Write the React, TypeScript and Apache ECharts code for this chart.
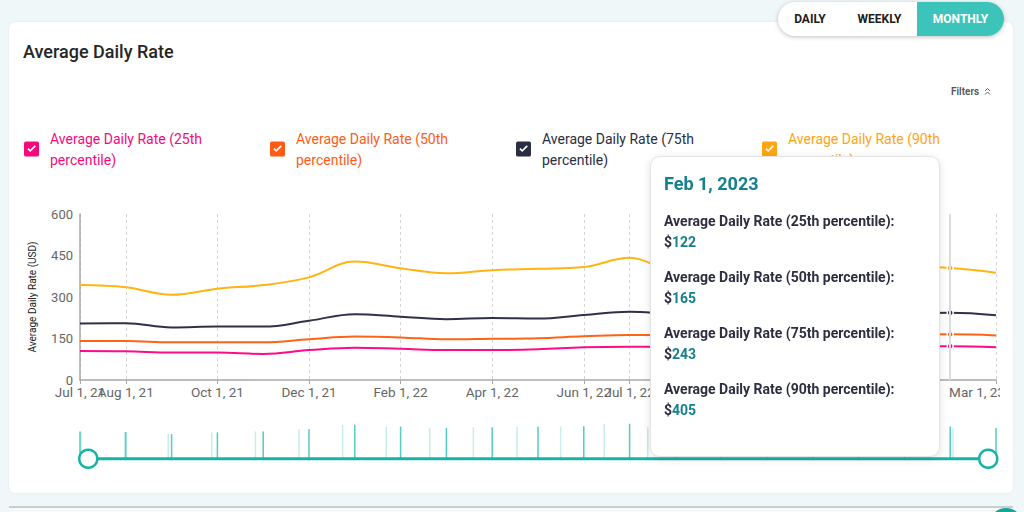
import React, { useEffect, useRef } from "react";
import * as echarts from "echarts";

// ---- data ----
const categories = [
  "2021-07-01", "2021-08-01", "2021-09-01", "2021-10-01", "2021-11-01", "2021-12-01",
  "2022-01-01", "2022-02-01", "2022-03-01", "2022-04-01", "2022-05-01", "2022-06-01",
  "2022-07-01", "2022-08-01", "2022-09-01", "2022-10-01", "2022-11-01", "2022-12-01",
  "2023-01-01", "2023-02-01", "2023-03-01",
];
const seriesNames = [
  "Average Daily Rate (25th percentile)",
  "Average Daily Rate (50th percentile)",
  "Average Daily Rate (75th percentile)",
  "Average Daily Rate (90th percentile)",
];
const p25 = [105, 104, 99, 99, 94, 108, 117, 113, 108, 108, 111, 118, 120, 120, 121, 119, 117, 119, 121, 122, 118];
const p50 = [141, 141, 136, 136, 136, 147, 157, 154, 147, 149, 151, 158, 163, 162, 164, 161, 158, 160, 163, 165, 161];
const p75 = [204, 205, 190, 193, 193, 214, 238, 229, 220, 224, 222, 235, 247, 240, 246, 240, 232, 236, 240, 243, 234];
const p90 = [343, 335, 308, 330, 343, 371, 428, 404, 386, 397, 402, 408, 442, 395, 420, 410, 392, 398, 410, 405, 388];
const seriesValues = [p25, p50, p75, p90];
const seriesColors = ["#f50a7c", "#ff5b14", "#2b2d42", "#ffa412"];
const yMin = 0;
const yMax = 600;
const yInterval = 150;
const gridIndices = [0, 1, 3, 5, 7, 9, 11, 12, 14, 16, 18, 20];
const tooltipIndex = 19;
const buttons = ["DAILY", "WEEKLY", "MONTHLY"];

const MON = ["Jan", "Feb", "Mar", "Apr", "May", "Jun", "Jul", "Aug", "Sep", "Oct", "Nov", "Dec"];
const fmtShort = (s: string) => {
  const [y, m, d] = s.split("-");
  return `${MON[+m - 1]} ${+d}, ${y.slice(2)}`;
};
const fmtLong = (s: string) => {
  const [y, m, d] = s.split("-");
  return `${MON[+m - 1]} ${+d}, ${y}`;
};

const FONT = "Roboto, 'Noto Sans', sans-serif";
const CHECK_ICON =
  "path://M2,0H14Q16,0,16,2V14Q16,16,14,16H2Q0,16,0,14V2Q0,0,2,0ZM3.6,8.3L6.6,11.3L12.6,5.3L11.3,4L6.6,8.7L4.9,7Z";

const showIdx = (i: number) => gridIndices.includes(i);
const lastIdx = categories.length - 1;

const xLabelStyle = { color: "#666", fontSize: 13.5, fontFamily: FONT };

export default function App() {
  const ref = useRef<HTMLDivElement>(null);

  useEffect(() => {
    if (!ref.current) return;
    const chart = echarts.init(ref.current, null, { renderer: "svg" });

    const lineSeries = seriesNames.map((name, i) => ({
      name,
      type: "line",
      xAxisIndex: 0,
      yAxisIndex: 0,
      data: seriesValues[i],
      smooth: 0.4,
      showSymbol: false,
      symbol: "circle",
      symbolSize: 6,
      lineStyle: { width: 2, color: seriesColors[i] },
      itemStyle: { color: seriesColors[i], borderColor: "#fff", borderWidth: 1.5 },
      emphasis: { scale: false, focus: "none", lineStyle: { width: 2 } },
      z: 3,
    }));

    const mainGrid = { left: 80, right: 4, top: 214, bottom: 132, containLabel: false, outerBoundsMode: "none" };

    const option: any = {
      animation: false,
      textStyle: { fontFamily: FONT },
      title: {
        text: "Average Daily Rate",
        left: 18,
        top: 37,
        textStyle: { fontSize: 18, fontWeight: 500, color: "#262626", fontFamily: FONT },
      },
      legend: {
        left: 19,
        top: 123,
        orient: "horizontal",
        icon: CHECK_ICON,
        itemWidth: 15,
        itemHeight: 15,
        itemGap: 30,
        itemStyle: { borderWidth: 0 },
        formatter: (name: string) => name.replace(" percentile", "\npercentile"),
        textStyle: { fontSize: 14, lineHeight: 21, width: 190, padding: [0, 0, 0, 6], fontFamily: FONT },
        data: seriesNames.map((name, i) => ({ name, textStyle: { color: seriesColors[i] } })),
      },
      grid: [
        mainGrid,
        { left: 80, right: 4, top: 420, height: 38, containLabel: false, outerBoundsMode: "none" },
        { left: 81, width: 872, top: 420, height: 38, containLabel: false, outerBoundsMode: "none" },
        { ...mainGrid },
      ],
      xAxis: [
        {
          type: "category",
          gridIndex: 0,
          data: categories,
          boundaryGap: false,
          axisLine: { show: true, lineStyle: { color: "#a8a8a8", width: 1.5 } },
          axisTick: { show: true, interval: (i: number) => showIdx(i), length: 4, lineStyle: { color: "#a8a8a8" } },
          axisLabel: {
            interval: (i: number) => i !== 0 && showIdx(i),
            formatter: (v: string, i: number) => (i === lastIdx ? `{m|${fmtShort(v)}}` : fmtShort(v)),
            rich: { m: { ...xLabelStyle, padding: [0, 38, 0, 0] } },
            ...xLabelStyle,
            margin: 5,
            showMaxLabel: true,
            hideOverlap: false,
          },
          splitLine: {
            show: true,
            interval: (i: number) => showIdx(i),
            lineStyle: { color: "#d4d4d4", type: [3, 3], width: 1 },
          },
        },
        { type: "category", gridIndex: 1, data: categories, boundaryGap: false, show: false },
        { type: "category", gridIndex: 2, data: categories, boundaryGap: false, show: false },
        {
          type: "category",
          gridIndex: 3,
          data: categories,
          boundaryGap: false,
          axisLine: { show: false },
          axisTick: { show: false },
          splitLine: { show: false },
          axisLabel: {
            interval: (i: number) => i === 0,
            formatter: (v: string) => fmtShort(v),
            ...xLabelStyle,
            margin: 5,
            showMinLabel: true,
            showMaxLabel: false,
          },
        },
      ],
      yAxis: [
        {
          type: "value",
          gridIndex: 0,
          min: yMin,
          max: yMax,
          interval: yInterval,
          name: "Average Daily Rate (USD)",
          nameLocation: "middle",
          nameGap: 43,
          nameTextStyle: { fontSize: 10, color: "#222", fontFamily: FONT },
          axisLine: { show: true, lineStyle: { color: "#a8a8a8", width: 1.5 } },
          axisTick: { show: false },
          axisLabel: { color: "#666", fontSize: 13, margin: 7, fontFamily: FONT },
          splitLine: { show: false },
        },
        { type: "value", gridIndex: 1, min: 0, max: 490, show: false, splitLine: { show: false } },
        { type: "value", gridIndex: 2, min: 0, max: 490, show: false, splitLine: { show: false } },
        { type: "value", gridIndex: 3, min: yMin, max: yMax, show: false, splitLine: { show: false } },
      ],
      dataZoom: [
        {
          type: "slider",
          xAxisIndex: 0,
          left: 85,
          right: 13,
          top: 457,
          height: 3,
          start: 0,
          end: 100,
          backgroundColor: "transparent",
          borderColor: "transparent",
          fillerColor: "#17b3a6",
          handleIcon: "circle",
          handleSize: 18,
          handleStyle: { color: "#fff", borderColor: "#17b3a6", borderWidth: 2.5 },
          moveHandleSize: 0,
          showDetail: false,
          showDataShadow: false,
          brushSelect: false,
          emphasis: { handleStyle: { color: "#fff", borderColor: "#17b3a6", borderWidth: 2.5 } },
        },
      ],
      tooltip: {
        trigger: "axis",
        alwaysShowContent: true,
        showDelay: 0,
        transitionDuration: 0,
        position: [650, 156],
        backgroundColor: "#fff",
        borderColor: "#e4e4e4",
        borderWidth: 1,
        padding: [15, 13],
        extraCssText:
          "box-shadow: 0 2px 8px rgba(0,0,0,0.12); border-radius: 10px; width: 262px; height: 269px; box-sizing: content-box;",
        axisPointer: { type: "line", lineStyle: { color: "#dcdcdc", width: 2, type: "solid" } },
        formatter: (params: any) => {
          const list = Array.isArray(params) ? params : [params];
          let html = `<div style="font-family:${FONT};font-weight:700;font-size:18px;line-height:24px;color:#17808f;margin:0 0 15px 0">${fmtLong(
            list[0].axisValue
          )}</div>`;
          list.forEach((p: any) => {
            html += `<div style="margin:0 0 14px 0;font-family:${FONT}"><div style="font-weight:700;font-size:14px;line-height:21px;color:#2d2e40">${p.seriesName}:</div><div style="font-weight:700;font-size:14px;line-height:21px;color:#17808f"><span style="color:#2d2e40">$</span>${p.value}</div></div>`;
          });
          return html;
        },
      },
      graphic: [
        {
          type: "text",
          left: 951,
          top: 86,
          style: { text: "Filters", fontSize: 10, fontWeight: 600, fill: "#555", fontFamily: FONT },
        },
        {
          type: "polyline",
          shape: { points: [[985, 91], [987.5, 88.5], [990, 91]] },
          style: { stroke: "#666", lineWidth: 1, fill: null },
        },
        {
          type: "polyline",
          shape: { points: [[985, 94.5], [987.5, 92], [990, 94.5]] },
          style: { stroke: "#666", lineWidth: 1, fill: null },
        },
      ],
      series: [
        ...lineSeries,
        {
          type: "bar",
          xAxisIndex: 2,
          yAxisIndex: 2,
          data: p90,
          barWidth: 1.5,
          silent: true,
          itemStyle: { color: "#c6eeea" },
          tooltip: { show: false },
          z: 1,
        },
        {
          type: "bar",
          xAxisIndex: 1,
          yAxisIndex: 1,
          data: p90,
          barWidth: 1.5,
          silent: true,
          itemStyle: { color: "#55cbc1" },
          tooltip: { show: false },
          z: 1,
        },
      ],
    };

    chart.setOption(option);
    chart.dispatchAction({ type: "showTip", seriesIndex: 0, dataIndex: tooltipIndex });
    const t = setTimeout(() => {
      chart.dispatchAction({ type: "showTip", seriesIndex: 0, dataIndex: tooltipIndex });
    }, 30);

    return () => {
      clearTimeout(t);
      chart.dispose();
    };
  }, []);

  return (
    <div
      style={{
        position: "fixed",
        left: 0,
        top: 0,
        width: 1024,
        height: 512,
        background: "#f0f7f9",
        overflow: "hidden",
        fontFamily: FONT,
      }}
    >
      <style>{"html, body { overflow: hidden !important; margin: 0; }"}</style>
      <div
        style={{
          position: "absolute",
          left: 9,
          top: 22,
          width: 1004,
          height: 471,
          background: "#fff",
          borderRadius: 6,
          boxShadow: "0 0 2px rgba(0,0,0,0.08)",
        }}
      />
      <div ref={ref} style={{ position: "absolute", left: 0, top: 0, width: 1000, height: 512 }} />
      <div
        style={{
          position: "absolute",
          left: 9,
          top: 506,
          width: 1004,
          height: 6,
          zIndex: 1000,
          background: "linear-gradient(#c9cfd1 0px, #c9cfd1 2px, #f7f9f9 2px)",
        }}
      />
      <div
        style={{
          position: "absolute",
          left: 989,
          top: 508,
          width: 34,
          height: 34,
          borderRadius: "50%",
          background: "#14a89b",
          zIndex: 1001,
        }}
      />
      <div
        style={{
          position: "absolute",
          left: 778,
          top: 2,
          width: 226,
          height: 34,
          borderRadius: 17,
          background: "#fff",
          boxShadow: "0 1px 4px rgba(0,0,0,0.25)",
          display: "flex",
          overflow: "hidden",
        }}
      >
        {buttons.map((b, i) => (
          <div
            key={b}
            style={{
              width: [64, 75, 87][i],
              height: 34,
              lineHeight: "34px",
              textAlign: "center",
              fontSize: 12,
              fontWeight: 700,
              color: i === 2 ? "#fff" : "#1c1c1c",
              background: i === 2 ? "#3cc4ba" : "transparent",
            }}
          >
            {b}
          </div>
        ))}
      </div>
    </div>
  );
}
